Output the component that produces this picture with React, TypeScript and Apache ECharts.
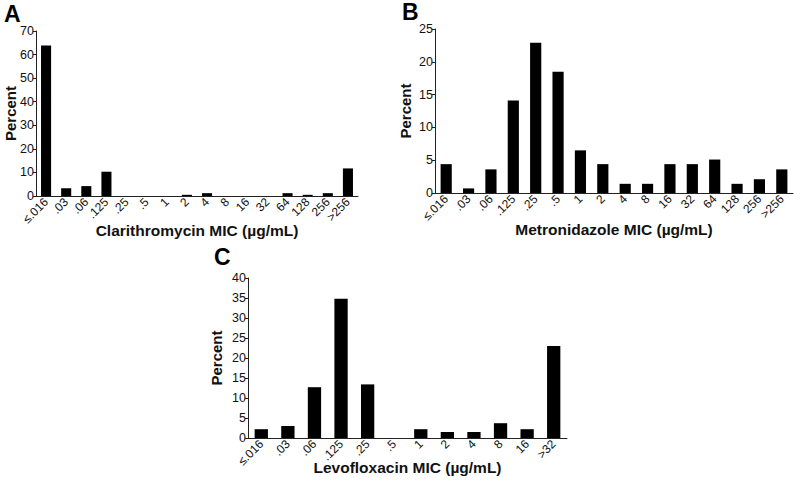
import React, { useEffect, useRef } from "react";
import * as echarts from "echarts";

const catsAB = ["≤.016", ".03", ".06", ".125", ".25", ".5", "1", "2", "4", "8", "16", "32", "64", "128", "256", ">256"];
const catsC = ["≤.016", ".03", ".06", ".125", ".25", ".5", "1", "2", "4", "8", "16", ">32"];
const clarithromycin = [63.8, 3.3, 4.2, 10.3, 0, 0, 0, 0.5, 1.2, 0, 0, 0, 1.2, 0.5, 1.2, 11.7];
const metronidazole = [4.4, 0.7, 3.6, 14.1, 22.9, 18.5, 6.5, 4.4, 1.4, 1.4, 4.4, 4.4, 5.1, 1.4, 2.1, 3.6];
const levofloxacin = [2.2, 3.0, 12.7, 34.8, 13.4, 0, 2.2, 1.5, 1.5, 3.7, 2.2, 23.0];
const yMaxA = 70, yStepA = 10;
const yMaxB = 25, yStepB = 5;
const yMaxC = 40, yStepC = 5;

const FONT = "'Liberation Sans', Arial, Helvetica, sans-serif";
const TXT = "#111";

export default function App() {
  const ref = useRef<HTMLDivElement>(null);
  useEffect(() => {
    if (!ref.current) return;
    const chart = echarts.init(ref.current, null, { renderer: "svg" });
    const panels = [
      { grid: { left: 36, right: 442, top: 31, bottom: 288 }, cats: catsAB, data: clarithromycin, max: yMaxA, step: yStepA, name: "Clarithromycin MIC (µg/mL)", yGap: 18, xGap: 26 },
      { grid: { left: 435, right: 7, top: 29, bottom: 291 }, cats: catsAB, data: metronidazole, max: yMaxB, step: yStepB, name: "Metronidazole MIC (µg/mL)", yGap: 22, xGap: 28 },
      { grid: { left: 248, right: 233, top: 278, bottom: 46 }, cats: catsC, data: levofloxacin, max: yMaxC, step: yStepC, name: "Levofloxacin MIC (µg/mL)", yGap: 24, xGap: 21 },
    ];
    const option: any = {
      animation: false,
      backgroundColor: "#fff",
      textStyle: { fontFamily: FONT },
      grid: panels.map((p) => ({ ...p.grid, containLabel: false })),
      xAxis: panels.map((p, i) => ({
        type: "category",
        gridIndex: i,
        data: p.cats,
        name: p.name,
        nameLocation: "middle",
        nameGap: p.xGap,
        nameMoveOverlap: false,
        nameTextStyle: { fontFamily: FONT, fontSize: 15.5, fontWeight: "bold", color: TXT },
        axisLine: { lineStyle: { color: "#222", width: 1 } },
        axisTick: { show: false },
        axisLabel: { rotate: 45, fontSize: 12, color: TXT, margin: 4, interval: 0, fontFamily: FONT },
        splitLine: { show: false },
      })),
      yAxis: panels.map((p, i) => ({
        type: "value",
        gridIndex: i,
        min: 0,
        max: p.max,
        interval: p.step,
        name: "Percent",
        nameLocation: "middle",
        nameGap: p.yGap,
        nameMoveOverlap: false,
        nameTextStyle: { fontFamily: FONT, fontSize: 15, fontWeight: "bold", color: TXT },
        axisLine: { show: true, lineStyle: { color: "#222", width: 1 } },
        axisTick: { show: true, length: 3, lineStyle: { color: "#222" } },
        axisLabel: { fontSize: 12.5, color: TXT, margin: 2, fontFamily: FONT },
        splitLine: { show: false },
      })),
      series: panels.map((p, i) => ({
        type: "bar",
        xAxisIndex: i,
        yAxisIndex: i,
        data: p.data,
        barWidth: "50%",
        itemStyle: { color: "#000" },
      })),
      graphic: [
        { type: "text", left: 4, top: 2, style: { text: "A", font: `bold 23px ${FONT}`, fill: "#000" } },
        { type: "text", left: 402, top: 0, style: { text: "B", font: `bold 23px ${FONT}`, fill: "#000" } },
        { type: "text", left: 214, top: 245, style: { text: "C", font: `bold 23px ${FONT}`, fill: "#000" } },
      ],
    };
    chart.setOption(option);
    return () => chart.dispose();
  }, []);
  return <div ref={ref} style={{ position: "fixed", left: 0, top: 0, width: 800, height: 484 }} />;
}
